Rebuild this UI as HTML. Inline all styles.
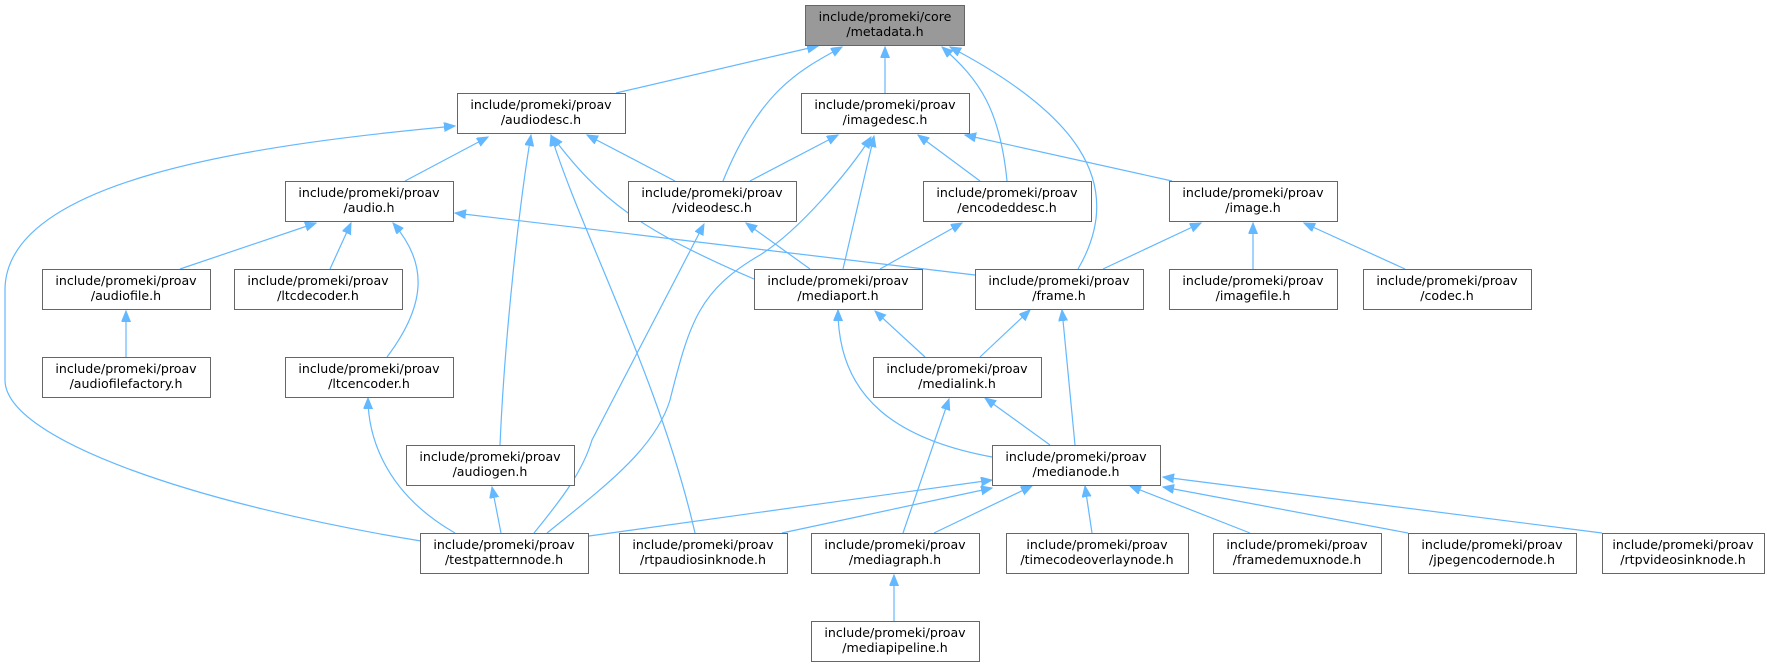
<!DOCTYPE html>
<html><head><meta charset="utf-8"><style>
html,body{margin:0;padding:0;background:#fff}
svg{display:block}
text{font-family:"DejaVu Sans","Liberation Sans",sans-serif;font-size:12.6px;fill:#000;text-anchor:middle}
.n{fill:#fff;stroke:#666;stroke-width:1}
.e{fill:none;stroke:#63b8ff;stroke-width:1.2}
</style></head><body>
<svg width="1767" height="667" viewBox="0 0 1767 667" xmlns="http://www.w3.org/2000/svg">
<defs><marker id="a" markerWidth="12" markerHeight="10" refX="11" refY="4.5" orient="auto" markerUnits="userSpaceOnUse"><path d="M0,0 L11,4.5 L0,9 Z" fill="#63b8ff" stroke="#63b8ff"/></marker></defs>
<g class="e" marker-end="url(#a)">
<path d="M616,93 L818,46"/>
<path d="M723,181 C760,90 800,70 842,47"/>
<path d="M885,93 L885,47"/>
<path d="M1007,181 C1000,110 980,80 942,47"/>
<path d="M1078,269 C1130,180 1070,110 950,47"/>
<path d="M421,541 C200,505 5,440 5,380 L5,290 C5,180 250,145 455,126"/>
<path d="M405,181 L488,137"/>
<path d="M500,445 C505,330 520,200 531,135"/>
<path d="M695,533 C660,380 580,230 551,135"/>
<path d="M754,279 C640,230 600,200 552,136"/>
<path d="M675,181 L587,135"/>
<path d="M750,181 L838,135"/>
<path d="M547,533 C600,490 655,450 670,400 C690,320 700,290 760,255 C800,230 850,170 871,137"/>
<path d="M843,269 L874,136"/>
<path d="M980,181 L918,135"/>
<path d="M1172,181 L965,135"/>
<path d="M180,269 L316,223"/>
<path d="M330,269 L351,223"/>
<path d="M126,357 L126,311"/>
<path d="M387,357 C430,300 425,260 393,223"/>
<path d="M975,275 L455,213"/>
<path d="M534,533 C565,495 583,470 592,440 L704,224"/>
<path d="M810,269 L746,223"/>
<path d="M880,269 L962,223"/>
<path d="M1103,269 L1201,223"/>
<path d="M1253,269 L1253,223"/>
<path d="M1405,269 L1304,223"/>
<path d="M992,457 C900,440 838,400 838,310"/>
<path d="M925,357 L875,311"/>
<path d="M980,357 L1030,310"/>
<path d="M1075,445 L1062,310"/>
<path d="M501,533 L492,487"/>
<path d="M455,533 C380,490 368,430 368,398"/>
<path d="M903,533 L949,399"/>
<path d="M1050,445 L985,398"/>
<path d="M589,536 L992,480"/>
<path d="M782,533 L992,488"/>
<path d="M934,533 L1032,486"/>
<path d="M1092,533 L1085,486"/>
<path d="M1250,533 L1130,486"/>
<path d="M1408,533 L1163,487"/>
<path d="M1602,533 L1163,477"/>
<path d="M894,621 L894,575"/>
</g>
<g>
<rect x="805.5" y="5.5" width="159" height="40" fill="#999" stroke="#666"/>
<text x="885" y="21">include/promeki/core</text><text x="885" y="36">/metadata.h</text>
</g>
<g id="nodes">
<rect class="n" x="457.5" y="93.5" width="168" height="40"/><text x="541" y="109">include/promeki/proav</text><text x="541" y="124">/audiodesc.h</text>
<rect class="n" x="801.5" y="93.5" width="168" height="40"/><text x="885" y="109">include/promeki/proav</text><text x="885" y="124">/imagedesc.h</text>
<rect class="n" x="285.5" y="181.5" width="168" height="40"/><text x="369" y="197">include/promeki/proav</text><text x="369" y="212">/audio.h</text>
<rect class="n" x="628.5" y="181.5" width="168" height="40"/><text x="712" y="197">include/promeki/proav</text><text x="712" y="212">/videodesc.h</text>
<rect class="n" x="923.5" y="181.5" width="168" height="40"/><text x="1007" y="197">include/promeki/proav</text><text x="1007" y="212">/encodeddesc.h</text>
<rect class="n" x="1169.5" y="181.5" width="168" height="40"/><text x="1253" y="197">include/promeki/proav</text><text x="1253" y="212">/image.h</text>
<rect class="n" x="42.5" y="269.5" width="168" height="40"/><text x="126" y="285">include/promeki/proav</text><text x="126" y="300">/audiofile.h</text>
<rect class="n" x="234.5" y="269.5" width="168" height="40"/><text x="318" y="285">include/promeki/proav</text><text x="318" y="300">/ltcdecoder.h</text>
<rect class="n" x="754.5" y="269.5" width="168" height="40"/><text x="838" y="285">include/promeki/proav</text><text x="838" y="300">/mediaport.h</text>
<rect class="n" x="975.5" y="269.5" width="168" height="40"/><text x="1059" y="285">include/promeki/proav</text><text x="1059" y="300">/frame.h</text>
<rect class="n" x="1169.5" y="269.5" width="168" height="40"/><text x="1253" y="285">include/promeki/proav</text><text x="1253" y="300">/imagefile.h</text>
<rect class="n" x="1363.5" y="269.5" width="168" height="40"/><text x="1447" y="285">include/promeki/proav</text><text x="1447" y="300">/codec.h</text>
<rect class="n" x="42.5" y="357.5" width="168" height="40"/><text x="126" y="373">include/promeki/proav</text><text x="126" y="388">/audiofilefactory.h</text>
<rect class="n" x="285.5" y="357.5" width="168" height="40"/><text x="369" y="373">include/promeki/proav</text><text x="369" y="388">/ltcencoder.h</text>
<rect class="n" x="873.5" y="357.5" width="168" height="40"/><text x="957" y="373">include/promeki/proav</text><text x="957" y="388">/medialink.h</text>
<rect class="n" x="406.5" y="445.5" width="168" height="40"/><text x="490" y="461">include/promeki/proav</text><text x="490" y="476">/audiogen.h</text>
<rect class="n" x="992.5" y="445.5" width="168" height="40"/><text x="1076" y="461">include/promeki/proav</text><text x="1076" y="476">/medianode.h</text>
<rect class="n" x="420.5" y="533.5" width="168" height="40"/><text x="504" y="549">include/promeki/proav</text><text x="504" y="564">/testpatternnode.h</text>
<rect class="n" x="619.5" y="533.5" width="168" height="40"/><text x="703" y="549">include/promeki/proav</text><text x="703" y="564">/rtpaudiosinknode.h</text>
<rect class="n" x="811.5" y="533.5" width="168" height="40"/><text x="895" y="549">include/promeki/proav</text><text x="895" y="564">/mediagraph.h</text>
<rect class="n" x="1006.5" y="533.5" width="182" height="40"/><text x="1097" y="549">include/promeki/proav</text><text x="1097" y="564">/timecodeoverlaynode.h</text>
<rect class="n" x="1213.5" y="533.5" width="168" height="40"/><text x="1297" y="549">include/promeki/proav</text><text x="1297" y="564">/framedemuxnode.h</text>
<rect class="n" x="1408.5" y="533.5" width="168" height="40"/><text x="1492" y="549">include/promeki/proav</text><text x="1492" y="564">/jpegencodernode.h</text>
<rect class="n" x="1602.5" y="533.5" width="162" height="40"/><text x="1683" y="549">include/promeki/proav</text><text x="1683" y="564">/rtpvideosinknode.h</text>
<rect class="n" x="811.5" y="621.5" width="168" height="40"/><text x="895" y="637">include/promeki/proav</text><text x="895" y="652">/mediapipeline.h</text>
</g>
</svg>
</body></html>
